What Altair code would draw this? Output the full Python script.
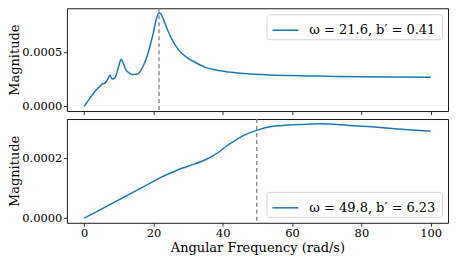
import altair as alt
import pandas as pd

# ---- data ----
freq_top = [0, 1.5, 2.9, 4.2, 5.3, 6.0, 6.4, 7.0, 7.4, 8.1, 8.8, 9.6, 10.2, 10.7,
            11.3, 12.0, 13.0, 13.9, 15.3, 16.3, 17.2, 18.2, 19.2, 20.0, 20.6, 21.1,
            21.6, 22.1, 22.6, 23.2, 23.9, 25.4, 27.2, 29.9, 32, 35, 38, 41.7, 45,
            51.2, 55, 60, 66.6, 70, 80, 90, 100]
mag_top = [0.0, 0.00007, 0.000132, 0.000175, 0.00021, 0.000217, 0.000233, 0.000265,
           0.000288, 0.000254, 0.000263, 0.00033, 0.0004, 0.000438, 0.0004, 0.00034,
           0.00031, 0.000295, 0.0003, 0.00033, 0.000387, 0.00047, 0.000586, 0.00069,
           0.000785, 0.00084, 0.000868, 0.00086, 0.00083, 0.00078, 0.000724, 0.000617,
           0.000525, 0.000448, 0.00041, 0.000362, 0.000337, 0.000319, 0.000308,
           0.000295, 0.00029, 0.000286, 0.000282, 0.00028, 0.000276, 0.000272, 0.00027]

freq_bot = [0, 5, 10, 15, 19.6, 22, 24.4, 26.8, 29.2, 32, 35, 37, 38.8, 41, 43.6,
            45.5, 47.4, 49.8, 53.2, 58.9, 63, 68.5, 76.1, 83, 90.5, 100]
mag_bot = [0.0, 0.00003, 0.000061, 0.000092, 0.00012, 0.000135, 0.000148, 0.00016,
           0.00017, 0.000181, 0.000195, 0.000207, 0.00022, 0.00024, 0.00026,
           0.000273, 0.000283, 0.000293, 0.000304, 0.000311, 0.000313, 0.000315,
           0.00031, 0.000305, 0.000298, 0.00029]

omega_top = [21.6]
omega_bot = [49.8]
label_top = "ω = 21.6,  b′ = 0.41\u00a0\u00a0"
label_bot = "ω = 49.8,  b′ = 6.23\u00a0\u00a0"
x_ticks = [0, 20, 40, 60, 80, 100]
y_ticks_top = [0.0, 0.0005]
y_ticks_bot = [0.0, 0.0002]
x_domain = [-5, 105]
y_domain_top = [-0.0000434, 0.000911]
y_domain_bot = [-0.0000158, 0.000331]

FONT = "DejaVu Serif"
BLUE = "#1f77b4"


def panel(freq, mag, omega, label, ydomain, yticks, show_x, height):
    df = pd.DataFrame({"freq": freq, "mag": mag, "series": [label] * len(freq)})
    rule_df = pd.DataFrame({"freq": omega})
    if show_x:
        xaxis = alt.Axis(values=x_ticks, title="Angular Frequency (rad/s)", format="d")
    else:
        xaxis = alt.Axis(values=x_ticks, labels=False, title=None)
    x = alt.X("freq:Q", scale=alt.Scale(domain=x_domain, nice=False, zero=False), axis=xaxis)
    y = alt.Y(
        "mag:Q",
        scale=alt.Scale(domain=ydomain, nice=False, zero=False),
        axis=alt.Axis(values=yticks, format=".4f", title="Magnitude"),
    )
    line = alt.Chart(df).mark_line(strokeWidth=1.5, interpolate="monotone").encode(
        x=x,
        y=y,
        color=alt.Color(
            "series:N",
            scale=alt.Scale(range=[BLUE]),
            legend=alt.Legend(
                title=None,
                orient="bottom-right" if show_x else "top-right",
                offset=6,
                symbolType="stroke",
                symbolSize=676,
                symbolStrokeWidth=1.5,
                symbolOffset=3,
                labelFont=FONT,
                labelFontSize=13,
                labelColor="#000000",
                padding=2,
                cornerRadius=3,
                strokeColor="#d6d6d6",
                fillColor="rgba(255,255,255,0.85)",
                labelOffset=10,
            ),
        ),
    )
    rule = alt.Chart(rule_df).mark_rule(
        color="#808080", strokeDash=[4, 3], strokeWidth=1.3
    ).encode(x=alt.X("freq:Q"))
    return alt.layer(line, rule).properties(width=382, height=height)


top = panel(freq_top, mag_top, omega_top, label_top, y_domain_top, y_ticks_top, False, 103)
bot = panel(freq_bot, mag_bot, omega_bot, label_bot, y_domain_bot, y_ticks_bot, True, 104)

chart = (
    alt.vconcat(top, bot, spacing=1)
    .resolve_scale(color="independent")
    .resolve_legend(color="independent")
    .properties(padding={"left": 0, "top": -2, "right": 0, "bottom": 0})
    .configure(font=FONT)
    .configure_view(stroke="#1a1a1a", strokeWidth=1)
    .configure_axis(
        grid=False,
        domain=False,
        tickColor="#1a1a1a",
        tickSize=3.5,
        tickWidth=0.9,
        labelFont=FONT,
        labelFontSize=11.5,
        labelColor="#000000",
        labelPadding=1.5,
        titleFont=FONT,
        titleFontSize=13,
        titleFontWeight="normal",
        titleColor="#000000",
        titlePadding=2,
    )
    .configure_axisY(titlePadding=0)
)

chart.save("out.html", embed_options={"renderer": "svg", "actions": False})
